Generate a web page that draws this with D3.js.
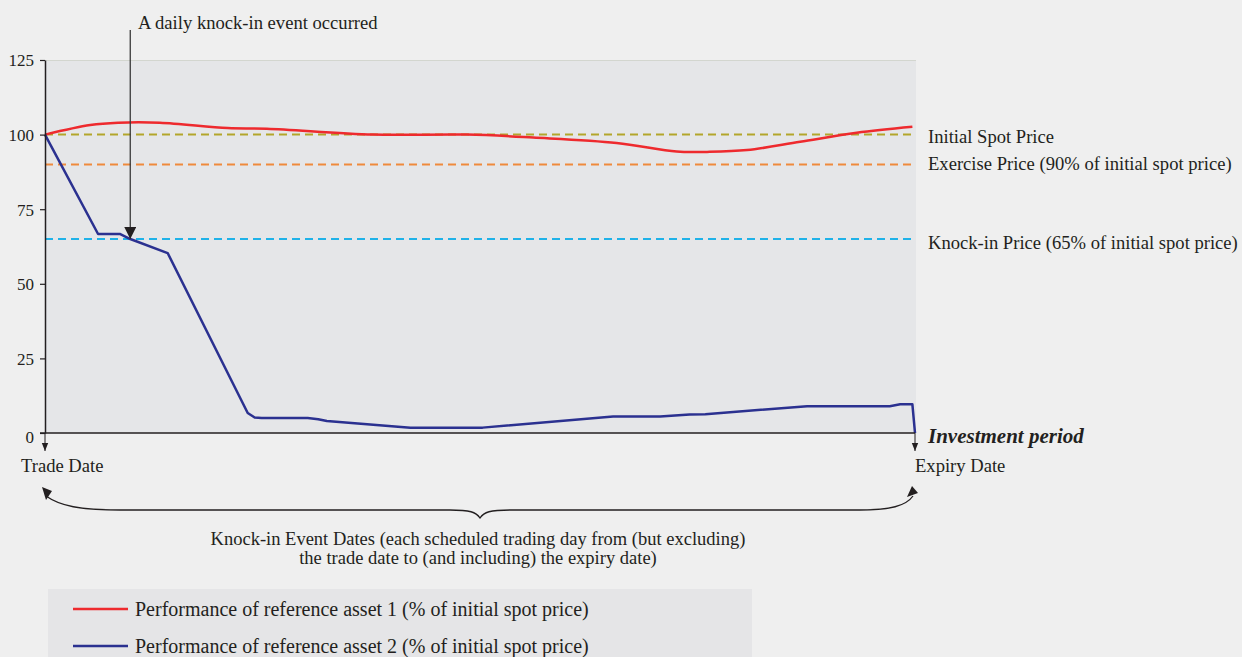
<!DOCTYPE html>
<html><head><meta charset="utf-8">
<script src="https://cdn.jsdelivr.net/npm/d3@7"></script>
<style>
html,body{margin:0;padding:0;background:#efefef;}
svg{display:block;font-family:"Liberation Serif","Times New Roman",serif;}
</style></head><body>
<svg id="c" width="1242" height="657"></svg>
<script>
// Position in investment period (% of period, 0 = trade date, 100 = expiry date)
const asset1Period = [0, 5.2, 8.4, 13.2, 21.0, 25.5, 37.7, 48.5, 56.1, 65.7, 72.6, 76.1, 80.7, 86.8, 93.3, 99.7];
const asset1Values = [100, 103.2, 104, 104, 102.2, 102, 100, 100, 99, 97.2, 94.3, 94.2, 94.8, 97.6, 100.6, 102.6];
const asset2Period = [0, 6.1, 8.6, 9.8, 14.1, 23.3, 24.1, 24.9, 30.2, 31.4, 32.4, 42.0, 50.3, 65.3, 70.7, 74.1, 75.9, 87.6, 97.1, 98.3, 99.7, 100];
const asset2Values = [100, 66.7, 66.7, 65, 60.3, 6.7, 5.2, 5, 5, 4.6, 4, 1.8, 1.8, 5.5, 5.5, 6.2, 6.3, 9, 9, 9.6, 9.6, 0];
const refNames = ["Initial Spot Price", "Exercise Price (90% of initial spot price)", "Knock-in Price (65% of initial spot price)"];
const refValues = [100, 90, 65];
const refColors = ["#b3a62b", "#ef8a3c", "#1fb2e8"];
const yTicks = [0, 25, 50, 75, 100, 125];
const legendNames = ["Performance of reference asset 1 (% of initial spot price)", "Performance of reference asset 2 (% of initial spot price)"];
const seriesColors = ["#ee2a2e", "#2b3190"];
const knockInPeriod = 9.8, knockInValue = 65;

const svg = d3.select("#c");
const L = 45, R = 915, T = 60, B = 433;
const x = d3.scaleLinear().domain([0, 100]).range([L, R]);
const y = d3.scaleLinear().domain([0, 125]).range([B, T]);
const txt = "#231f20";
const FS = 18.6;

const defs = svg.append("defs");
defs.append("marker").attr("id","ah2").attr("viewBox","0 0 10 10").attr("refX",10).attr("refY",5)
  .attr("markerWidth",12).attr("markerHeight",12).attr("markerUnits","userSpaceOnUse").attr("orient","auto")
  .append("path").attr("d","M0,0L10,5L0,10Z").attr("fill","#231f20");
defs.append("marker").attr("id","ahs").attr("viewBox","0 0 10 10").attr("refX",10).attr("refY",5)
  .attr("markerWidth",8).attr("markerHeight",8).attr("markerUnits","userSpaceOnUse").attr("orient","auto")
  .append("path").attr("d","M0,1L10,5L0,9Z").attr("fill","#231f20");

// plot background
svg.append("rect").attr("x", L).attr("y", T).attr("width", 871).attr("height", B - T).attr("fill", "#e5e6e8");
svg.append("line").attr("x1", L).attr("x2", L + 871).attr("y1", T + 0.5).attr("y2", T + 0.5).attr("stroke", "#d3d6cf").attr("stroke-width", 1);

// reference lines
refValues.forEach((v, i) => {
  svg.append("line").attr("x1", x(0)).attr("x2", x(99.7)).attr("y1", y(v)).attr("y2", y(v))
    .attr("stroke", refColors[i]).attr("stroke-width", 2).attr("stroke-dasharray", "8,5");
  svg.append("text").attr("x", 928).attr("y", y(v) + (i === 0 ? 2 : i === 1 ? -1 : 3)).attr("dy", "0.35em")
    .attr("font-size", FS).attr("fill", txt).text(refNames[i]);
});

// series
const line1 = d3.line().x((d, i) => x(asset1Period[i])).y(d => y(d)).curve(d3.curveCatmullRom.alpha(0.5));
const line2 = d3.line().x((d, i) => x(asset2Period[i])).y(d => y(d));
svg.append("path").attr("d", line1(asset1Values)).attr("fill", "none").attr("stroke", seriesColors[0]).attr("stroke-width", 2.5);
svg.append("path").attr("d", line2(asset2Values)).attr("fill", "none").attr("stroke", seriesColors[1]).attr("stroke-width", 2.5).attr("stroke-linejoin", "round");

// y axis
const ax = svg.append("g").attr("transform", `translate(${L},0)`)
  .call(d3.axisLeft(y).tickValues(yTicks).tickSize(5).tickSizeOuter(0));
ax.select(".domain").attr("stroke", "#231f20").attr("stroke-width", 1.5);
ax.selectAll(".tick line").attr("stroke", "#231f20").attr("stroke-width", 1.2);
ax.selectAll(".tick text").attr("font-family", "Liberation Serif").attr("font-size", 17).attr("fill", txt)
  .attr("x", -11).attr("dy", d => d === 0 ? "0.55em" : "0.35em");

// x axis baseline
svg.append("line").attr("x1", L - 5).attr("x2", R).attr("y1", B).attr("y2", B).attr("stroke", "#231f20").attr("stroke-width", 1.5);

// down arrows at trade/expiry date
[0, 100].forEach(p => {
  svg.append("line").attr("x1", x(p)).attr("x2", x(p)).attr("y1", B).attr("y2", 451)
    .attr("stroke", "#231f20").attr("stroke-width", 1).attr("marker-end", "url(#ahs)");
});
svg.append("text").attr("x", 21).attr("y", 472).attr("font-size", FS).attr("fill", txt).text("Trade Date");
svg.append("text").attr("x", 915).attr("y", 472).attr("font-size", FS).attr("fill", txt).text("Expiry Date");
svg.append("text").attr("x", 928).attr("y", 443).attr("font-size", 21).attr("font-weight", "bold").attr("font-style", "italic").attr("fill", txt).text("Investment period");

// knock-in annotation
svg.append("line").attr("x1", x(knockInPeriod)).attr("x2", x(knockInPeriod)).attr("y1", 30).attr("y2", y(knockInValue))
  .attr("stroke", "#3a3a3a").attr("stroke-width", 1.3).attr("marker-end", "url(#ah2)");
svg.append("text").attr("x", 138).attr("y", 29).attr("font-size", FS).attr("fill", txt).text("A daily knock-in event occurred");

// brace
const mid = 480;
const bracePath = `M46,496 C60,506 80,510 120,510 L${mid - 30},510 C${mid - 10},510 ${mid - 4},512 ${mid},518 C${mid + 4},512 ${mid + 10},510 ${mid + 30},510 L860,510 C890,510 906,506 913,496`;
svg.append("path").attr("d", bracePath).attr("fill", "none").attr("stroke", "#231f20").attr("stroke-width", 1.3);
svg.append("path").attr("d", "M42,487 L52,491 L46,500 Z").attr("fill", "#231f20");
svg.append("path").attr("d", "M918,493 L907,497 L912,486 Z").attr("fill", "#231f20");
svg.append("text").attr("x", mid - 2).attr("y", 545).attr("text-anchor", "middle").attr("font-size", 18.5).attr("fill", txt)
  .text("Knock-in Event Dates (each scheduled trading day from (but excluding)");
svg.append("text").attr("x", mid - 2).attr("y", 564).attr("text-anchor", "middle").attr("font-size", 18.5).attr("fill", txt)
  .text("the trade date to (and including) the expiry date)");

// legend
svg.append("rect").attr("x", 48).attr("y", 589).attr("width", 704).attr("height", 68).attr("fill", "#e5e5e7");
legendNames.forEach((n, i) => {
  const ly = 609 + i * 37;
  svg.append("line").attr("x1", 73).attr("x2", 128).attr("y1", ly).attr("y2", ly).attr("stroke", seriesColors[i]).attr("stroke-width", 2.5);
  svg.append("text").attr("x", 135).attr("y", ly).attr("dy", "0.33em").attr("font-size", 20).attr("fill", txt).text(n);
});
</script></body></html>
